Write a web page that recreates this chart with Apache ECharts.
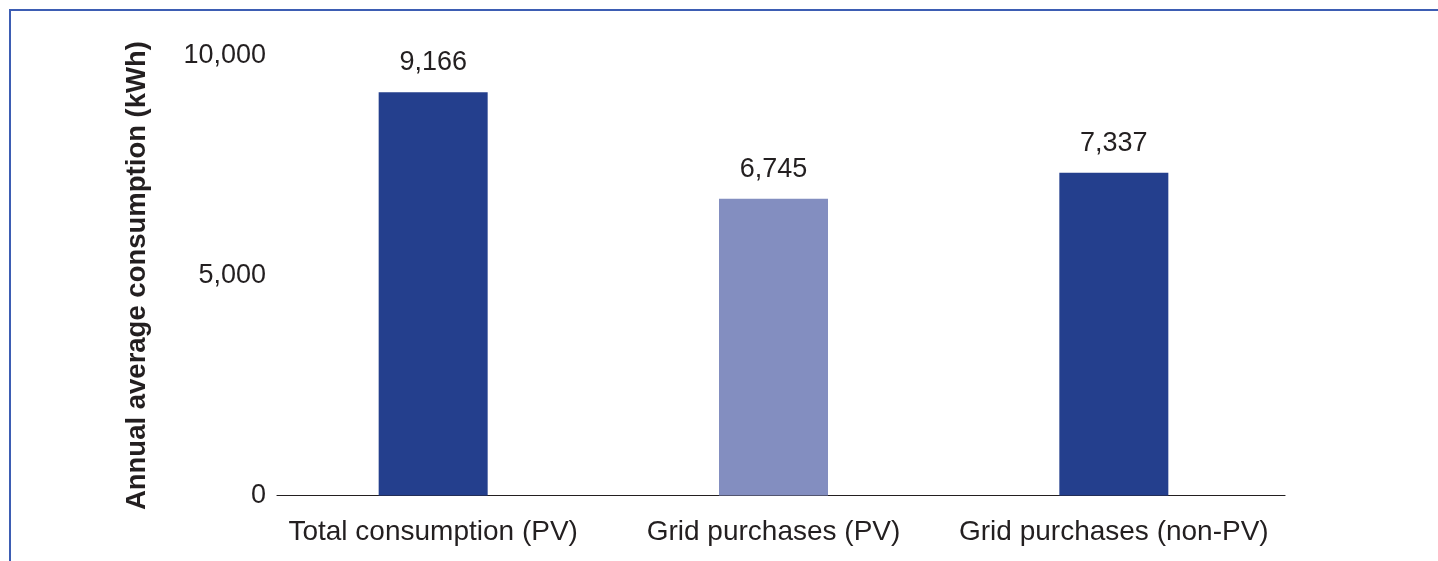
<!DOCTYPE html>
<html>
<head>
<meta charset="utf-8">
<script src="https://cdn.jsdelivr.net/npm/echarts@6/dist/echarts.min.js"></script>
<style>
  html, body { margin: 0; padding: 0; background: #ffffff; }
  #chart { position: absolute; left: 0; top: 0; width: 1438px; height: 561px; }
  #frame { position: absolute; left: 9px; top: 9px; right: 0; bottom: 0;
           border-top: 2px solid #3d5db3; border-left: 2px solid #3d5db3; pointer-events: none; }
</style>
</head>
<body>
<div id="chart"></div>
<div id="frame"></div>
<script>
const categories = ['Total consumption (PV)', 'Grid purchases (PV)', 'Grid purchases (non-PV)'];
const values = [9166, 6745, 7337];
const barColors = ['#243f8d', '#838ec0', '#243f8d'];
const yAxisTitle = 'Annual average consumption (kWh)';

const textColor = '#231f20';
const fontFamily = 'Liberation Sans, Arial, Helvetica, sans-serif';

const chart = echarts.init(document.getElementById('chart'), null, { renderer: 'canvas' });
chart.setOption({
  animation: false,
  backgroundColor: '#ffffff',
  grid: [
    { left: 263, right: 154, top: 55.6, bottom: 65.5, containLabel: false },
    { left: 277, right: 153, top: 55.6, bottom: 65.5, containLabel: false }
  ],
  xAxis: [{
    type: 'category',
    gridIndex: 0,
    data: categories,
    axisLine: { show: false },
    axisTick: { show: false },
    axisLabel: { color: textColor, fontSize: 28, fontFamily: fontFamily, margin: 23, interval: 0 }
  }, {
    type: 'value',
    gridIndex: 1,
    min: 0,
    max: 1,
    axisLine: { show: true, onZero: false, lineStyle: { color: '#231f20', width: 1.2 } },
    axisTick: { show: false },
    axisLabel: { show: false },
    splitLine: { show: false }
  }],
  yAxis: [{
    type: 'value',
    gridIndex: 0,
    min: 0,
    max: 10000,
    interval: 5000,
    offset: -14,
    name: yAxisTitle,
    nameLocation: 'middle',
    nameGap: 126,
    nameRotate: 90,
    nameTextStyle: { color: textColor, fontSize: 27.5, fontWeight: 'bold', fontFamily: fontFamily },
    axisLine: { show: false },
    axisTick: { show: false },
    splitLine: { show: false },
    axisLabel: {
      color: textColor, fontSize: 27, fontFamily: fontFamily, margin: 11,
      formatter: function (v) { return v.toLocaleString('en-US'); }
    }
  }, {
    type: 'value',
    gridIndex: 1,
    min: 0,
    max: 1,
    show: false
  }],
  series: [{
    type: 'bar',
    xAxisIndex: 0,
    yAxisIndex: 0,
    barWidth: 109,
    data: values.map(function (v, i) { return { value: v, itemStyle: { color: barColors[i] } }; }),
    label: {
      show: true,
      position: 'top',
      distance: 16,
      color: textColor,
      fontSize: 27,
      fontFamily: fontFamily,
      formatter: function (p) { return p.value.toLocaleString('en-US'); }
    }
  }]
});
</script>
</body>
</html>
